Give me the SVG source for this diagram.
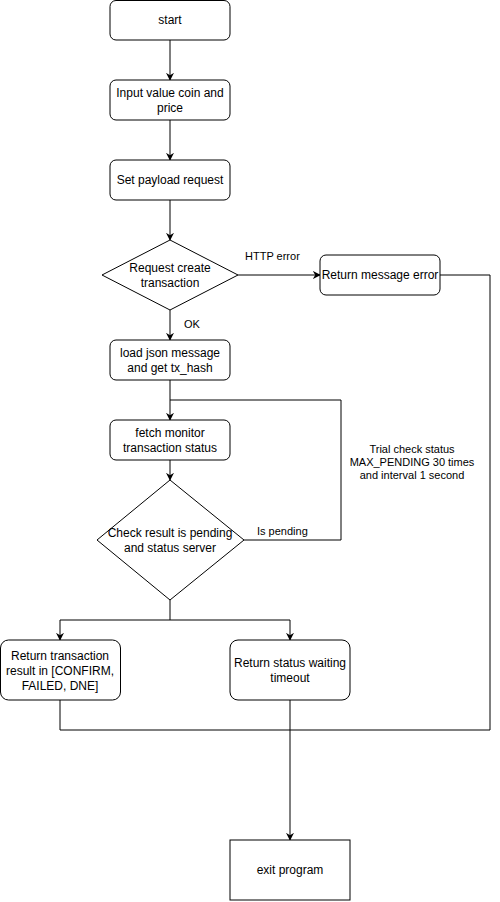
<svg xmlns="http://www.w3.org/2000/svg" width="500" height="902" viewBox="0 0 500 902">
<defs>
<style>
.box{fill:#fff;stroke:#000;stroke-width:1}
.t{font-family:"Liberation Sans",Arial,sans-serif;font-size:12px;fill:#000;text-anchor:middle}
.lbl{font-family:"Liberation Sans",Arial,sans-serif;font-size:11px;fill:#000}
.c{fill:none;stroke:#000;stroke-width:1}
</style>
<marker id="ah" viewBox="0 0 10 10" refX="9" refY="5" markerWidth="8" markerHeight="8" markerUnits="userSpaceOnUse" orient="auto">
<path d="M0,0 L10,5 L0,10 L3,5 Z" fill="#000"/>
</marker>
</defs>
<rect width="500" height="902" fill="#fff"/>
<g id="connectors">
<path class="c" d="M170,40 V80" marker-end="url(#ah)"/>
<path class="c" d="M170,120 V160" marker-end="url(#ah)"/>
<path class="c" d="M170,200 V240" marker-end="url(#ah)"/>
<path class="c" d="M238,275 H320" marker-end="url(#ah)"/>
<path class="c" d="M170,310 V340" marker-end="url(#ah)"/>
<path class="c" d="M170,380 V420" marker-end="url(#ah)"/>
<path class="c" d="M170,460 V480" marker-end="url(#ah)"/>
<path class="c" d="M244,540 H341 V400 H170"/>
<path class="c" d="M170,600 V620 H60 V640" marker-end="url(#ah)"/>
<path class="c" d="M170,620 H290 V640" marker-end="url(#ah)"/>
<path class="c" d="M440,275 H490 V730 H60 V700"/>
<path class="c" d="M290,700 V840" marker-end="url(#ah)"/>
<text class="lbl" x="245" y="260">HTTP error</text>
<text class="lbl" x="184" y="328">OK</text>
<text class="lbl" x="257" y="535">Is pending</text>
<text class="lbl" x="412" y="453" text-anchor="middle">Trial check status</text>
<text class="lbl" x="412" y="466" text-anchor="middle">MAX_PENDING 30 times</text>
<text class="lbl" x="412" y="479" text-anchor="middle">and interval 1 second</text>
</g>
<g id="start"><rect class="box" x="110" y="0.5" width="120" height="39.5" rx="6"/><text class="t" x="170" y="24">start</text></g>
<g id="input"><rect class="box" x="110" y="80" width="120" height="40" rx="6"/><text class="t" x="170" y="97">Input value coin and</text><text class="t" x="170" y="112">price</text></g>
<g id="payload"><rect class="box" x="110" y="160" width="120" height="40" rx="6"/><text class="t" x="170" y="184">Set payload request</text></g>
<g id="request"><path class="box" d="M170,240 L238,275 L170,310 L102,275 Z"/><text class="t" x="170" y="272">Request create</text><text class="t" x="170" y="287">transaction</text></g>
<g id="error"><rect class="box" x="320" y="255" width="120" height="40" rx="6"/><text class="t" x="380" y="279">Return message error</text></g>
<g id="load"><rect class="box" x="110" y="340" width="120" height="40" rx="6"/><text class="t" x="170" y="357">load json message</text><text class="t" x="170" y="372">and get tx_hash</text></g>
<g id="fetch"><rect class="box" x="110" y="420" width="120" height="40" rx="6"/><text class="t" x="170" y="437">fetch monitor</text><text class="t" x="170" y="452">transaction status</text></g>
<g id="check"><path class="box" d="M170,480 L244,540 L170,600 L97,540 Z"/><text class="t" x="170" y="537">Check result is pending</text><text class="t" x="170" y="552">and status server</text></g>
<g id="result"><rect class="box" x="0.5" y="640" width="120" height="60" rx="8"/><text class="t" x="60" y="660">Return transaction</text><text class="t" x="60" y="675">result in [CONFIRM,</text><text class="t" x="60" y="690">FAILED, DNE]</text></g>
<g id="timeout"><rect class="box" x="230" y="640" width="120" height="60" rx="8"/><text class="t" x="290" y="667">Return status waiting</text><text class="t" x="290" y="682">timeout</text></g>
<g id="exit"><rect class="box" x="230" y="840" width="120" height="60"/><text class="t" x="290" y="874">exit program</text></g>
</svg>
